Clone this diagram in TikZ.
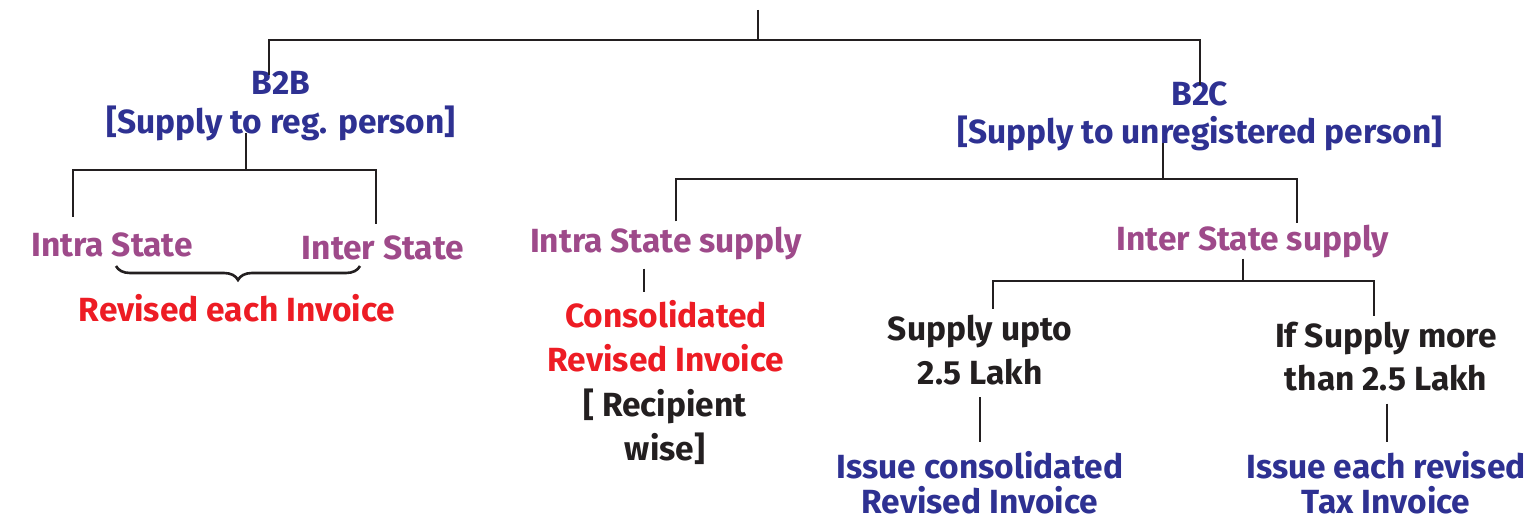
\documentclass[tikz,border=0pt]{standalone}
\usepackage{fontspec}
\setmainfont{Fira Sans}
\usetikzlibrary{decorations.pathreplacing}

\definecolor{navy}{HTML}{2E3192}
\definecolor{plum}{HTML}{9E4A8A}
\definecolor{alert}{HTML}{ED1C24}
\definecolor{ink}{HTML}{231F20}

\newcommand{\lines}[1]{\fontsize{33.5}{#1}\selectfont\bfseries}

\begin{document}
\begin{tikzpicture}[x=1pt,y=-1pt,
    txt/.style={align=center,inner sep=0pt,font=\lines{41}},
    head/.style={txt,text=navy},
    kind/.style={txt,text=plum},
    rule/.style={txt,text=alert},
    note/.style={txt,text=ink},
    link/.style={ink,line width=2.6pt},
    curly/.style={ink,line width=2.6pt,decorate,decoration={brace,mirror,amplitude=14pt}}]

      \useasboundingbox (0,0) rectangle (1538,524);

      % heads
      \node[head,font=\lines{39}] (b2b) at (281,106) {B2B\\{[}Supply to reg. person{]}};
      \node[head,font=\lines{38}] (b2c) at (1200,116) {B2C\\{[}Supply to unregistered person{]}};

      % kinds of supply
      \node[kind] (intra) at (112,245) {Intra State};
      \node[kind] (inter) at (383,248) {Inter State};
      \node[kind] (intrasup) at (666,244) {Intra State supply};
      \node[kind] (intersup) at (1253,242) {Inter State supply};

      \node[rule] (eachinv) at (237,308) {Revised each Invoice};
      \node[rule,font=\lines{44}] (consol) at (666,336) {Consolidated\\Revised Invoice};
      \node[note,font=\lines{44}] (recip) at (665,427) {{[} Recipient\\wise{]}};

      \node[note,font=\lines{44}] (upto) at (980,350) {Supply upto\\2.5 Lakh};
      \node[note,font=\lines{43}] (more) at (1386,357) {If Supply more\\than 2.5 Lakh};
      \node[head,font=\lines{35}] (issuecon) at (980,483) {Issue consolidated\\Revised Invoice};
      \node[head,font=\lines{35}] (issueeach) at (1386,483) {Issue each revised\\Tax Invoice};

      % junctions
      \coordinate (root) at (758,10);
      \coordinate (rootbar) at (758,40);
      \coordinate (b2bbar) at (246,170);
      \coordinate (b2cbar) at (1163,179);
      \coordinate (interbar) at (1243,281);
      \coordinate (bracel) at (116,266);
      \coordinate (bracer) at (360,266);

      \draw[link] (root) -- (rootbar);
      \draw[link] ([xshift=-12pt,yshift=-4pt]b2b.north) |- (rootbar) -| ([yshift=-4pt]b2c.north);

      \draw[link] ([yshift=8pt]b2b.south -| b2bbar) -- (b2bbar);
      \draw[link] ([xshift=-39pt,yshift=16pt]intra.north) |- (b2bbar) -| ([xshift=-7pt,yshift=12pt]inter.north);
      \draw[curly] (bracel) -- (bracer);

      \draw[link] ([yshift=8pt]b2c.south -| b2cbar) -- (b2cbar);
      \draw[link] ([xshift=10pt,yshift=6pt]intrasup.north) |- (b2cbar) -| ([xshift=44pt,yshift=2pt]intersup.north);
      \draw[link] ([xshift=-22pt,yshift=-8pt]intrasup.south) -- ([xshift=-22pt,yshift=8pt]consol.north);

      \draw[link] (intersup.south -| interbar) -- (interbar);
      \draw[link] ([xshift=13pt,yshift=6pt]upto.north) |- (interbar) -| ([xshift=-12pt,yshift=6pt]more.north);
      \draw[link] ([yshift=-12pt]upto.south) -- ([yshift=9pt]issuecon.north);
      \draw[link] ([xshift=1pt,yshift=-12pt]more.south) -- ([xshift=1pt,yshift=9pt]issueeach.north);

    \end{tikzpicture}
\end{document}
